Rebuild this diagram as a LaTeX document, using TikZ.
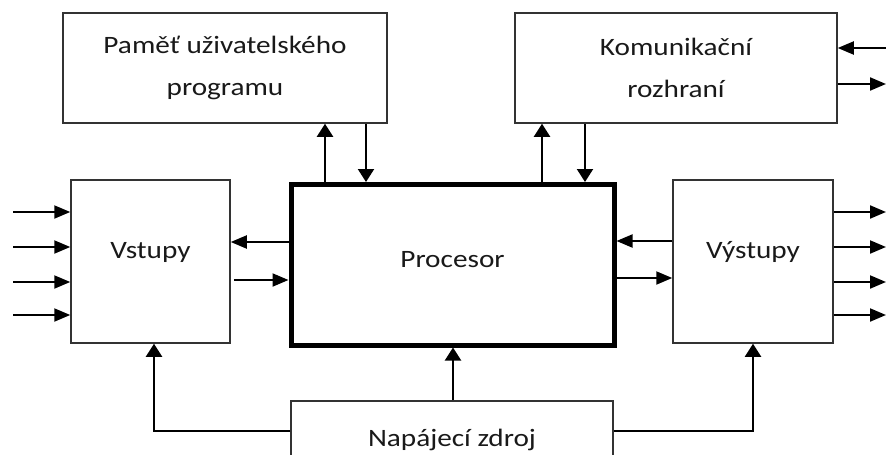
\documentclass[tikz,border=0pt]{standalone}
\usepackage{fontspec}
\setmainfont{Carlito}[FakeStretch=1.17]
\usetikzlibrary{arrows.meta}
\begin{document}
\begin{tikzpicture}[x=1pt,y=-1pt,
  box/.style={draw=black!80, line width=1.5pt, inner sep=0pt, rectangle,
    font=\fontsize{25}{42}\selectfont, text=black!90, align=center},
  conn/.style={line width=2pt, draw=black},
  harr/.style={conn, -{Triangle[length=16pt,width=13pt]}},
  varr/.style={conn, -{Triangle[length=13pt,width=16pt]}}]
\useasboundingbox (0,0) rectangle (886,455);
\clip (0,0) rectangle (886,455);
% boxes
\node[box, minimum width=324pt, minimum height=110pt] (mem) at (225,68) {Paměť uživatelského\\programu};
\node[box, minimum width=322pt, minimum height=110pt] (comm) at (676,68) {Komunikační\\rozhraní};
\node[box, minimum width=159pt, minimum height=163pt, text height=15pt, text depth=22pt] (vst) at (150.5,261.5) {Vstupy};
\node[box, minimum width=160pt, minimum height=163pt, text height=15pt, text depth=22pt] (vyst) at (753,261.5) {Výstupy};
\node[box, draw=black, line width=5pt, minimum width=323pt, minimum height=160.5pt, text height=20pt, text depth=15pt] (proc) at (452.5,264.75) {Procesor};
\node[box, minimum width=322pt, minimum height=91.4pt, text height=18pt, text depth=18pt] (pwr) at (452,446.7) {Napájecí zdroj};
% free ends
\coordinate (cin) at (886,48);
\coordinate (cout) at (886,84);
\foreach \i/\y in {1/212,2/247,3/282,4/315}{
  \coordinate (in\i) at (13,\y);
  \coordinate (out\i) at (886,\y);
}
\coordinate (lc) at (154,431);
\coordinate (rc) at (753,431);
% memory <-> processor
\draw[varr] (proc.north -| 325,0) -- (mem.south -| 325,0);
\draw[varr] (mem.south -| 366,0) -- (proc.north -| 366,0);
% comm <-> processor
\draw[varr] (proc.north -| 542,0) -- (comm.south -| 542,0);
\draw[varr] (comm.south -| 585,0) -- (proc.north -| 585,0);
% comm external
\draw[harr] (cin) -- (comm.east |- cin);
\draw[harr] (comm.east |- cout) -- (cout);
% vstupy <-> processor
\draw[harr] (proc.west |- 0,242) -- (vst.east |- 0,242);
\draw[harr] ([xshift=3pt]vst.east |- 0,280) -- (proc.west |- 0,280);
% vystupy <-> processor
\draw[harr] (vyst.west |- 0,241) -- (proc.east |- 0,241);
\draw[harr] (proc.east |- 0,278) -- (vyst.west |- 0,278);
% inputs / outputs
\foreach \i in {1,2,3,4}{
  \draw[harr] (in\i) -- (vst.west |- in\i);
  \draw[harr] (vyst.east |- out\i) -- (out\i);
}
% power supply
\draw[varr] (pwr.west |- lc) -- (lc) -- (vst.south -| lc);
\draw[varr] (pwr.north -| 453,0) -- (proc.south -| 453,0);
\draw[varr] (pwr.east |- rc) -- (rc) -- (vyst.south -| rc);
\end{tikzpicture}
\end{document}
